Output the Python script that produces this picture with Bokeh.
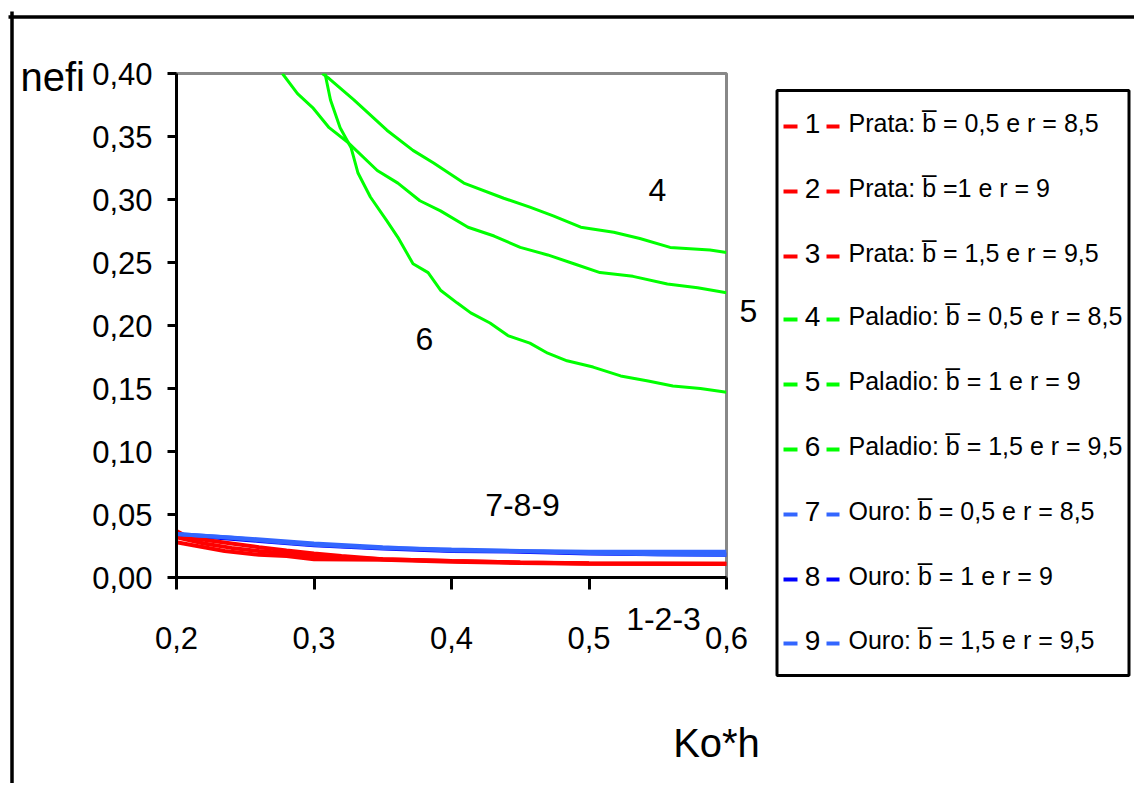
from bokeh.plotting import figure
from bokeh.models import Range1d, FixedTicker
from bokeh.core.properties import value
from bokeh.embed import file_html
from bokeh.resources import INLINE

FONT = "Liberation Sans"

# ---------------- data ----------------
x_ticks = [0.2, 0.3, 0.4, 0.5, 0.6]
x_tick_labels = ["0,2", "0,3", "0,4", "0,5", "0,6"]
y_ticks = [0.0, 0.05, 0.1, 0.15, 0.2, 0.25, 0.3, 0.35, 0.4]
y_tick_labels = ["0,00", "0,05", "0,10", "0,15", "0,20", "0,25", "0,30", "0,35", "0,40"]

# Prata (silver)
x1 = [0.2, 0.21, 0.22, 0.24, 0.26, 0.28, 0.30, 0.32, 0.35, 0.40, 0.45, 0.50, 0.60]
y1 = [0.037, 0.031, 0.030, 0.027, 0.024, 0.0214, 0.019, 0.017, 0.0145, 0.013, 0.012, 0.0113, 0.011]
x2 = [0.2, 0.22, 0.24, 0.26, 0.28, 0.30, 0.35, 0.40, 0.45, 0.50, 0.60]
y2 = [0.032, 0.027, 0.0235, 0.021, 0.019, 0.017, 0.0145, 0.013, 0.012, 0.0112, 0.011]
x3 = [0.2, 0.21, 0.22, 0.235, 0.26, 0.28, 0.30, 0.35, 0.40, 0.45, 0.50, 0.60]
y3 = [0.028, 0.026, 0.024, 0.021, 0.018, 0.017, 0.0145, 0.014, 0.0125, 0.0115, 0.011, 0.0108]

# Paladio
x4 = [0.306, 0.311, 0.329, 0.353, 0.372, 0.387, 0.409, 0.438, 0.457, 0.474, 0.494, 0.518, 0.537, 0.559, 0.588, 0.600]
y4 = [0.400, 0.396, 0.379, 0.355, 0.339, 0.329, 0.313, 0.301, 0.294, 0.287, 0.278, 0.274, 0.269, 0.262, 0.260, 0.258]
x5 = [0.277, 0.288, 0.299, 0.311, 0.325, 0.346, 0.361, 0.377, 0.392, 0.412, 0.431, 0.450, 0.470, 0.489, 0.508, 0.532, 0.557, 0.579, 0.600]
y5 = [0.400, 0.384, 0.373, 0.357, 0.345, 0.323, 0.313, 0.299, 0.291, 0.278, 0.271, 0.262, 0.256, 0.249, 0.242, 0.239, 0.233, 0.230, 0.226]
x6 = [0.308, 0.312, 0.319, 0.327, 0.332, 0.341, 0.353, 0.361, 0.372, 0.383, 0.392, 0.404, 0.414, 0.428, 0.441, 0.457, 0.470, 0.484, 0.503, 0.523, 0.543, 0.561, 0.581, 0.600]
y6 = [0.400, 0.379, 0.357, 0.341, 0.321, 0.302, 0.283, 0.270, 0.249, 0.242, 0.228, 0.218, 0.210, 0.202, 0.192, 0.186, 0.178, 0.172, 0.167, 0.160, 0.156, 0.152, 0.150, 0.147]

# Ouro (gold)
x7 = [0.2, 0.24, 0.27, 0.30, 0.35, 0.40, 0.45, 0.50, 0.55, 0.60]
y7 = [0.0345, 0.0316, 0.0286, 0.026, 0.0235, 0.0222, 0.021, 0.0205, 0.0204, 0.0204]
x8 = [0.2, 0.23, 0.26, 0.30, 0.35, 0.40, 0.45, 0.50, 0.55, 0.60]
y8 = [0.034, 0.0316, 0.029, 0.0255, 0.023, 0.021, 0.0205, 0.019, 0.0185, 0.018]
x9 = [0.2, 0.25, 0.30, 0.35, 0.40, 0.45, 0.50, 0.55, 0.60]
y9 = [0.0345, 0.031, 0.027, 0.024, 0.0215, 0.021, 0.0195, 0.0185, 0.018]

series_names = [
    "Prata: b\u0305 = 0,5 e r = 8,5",
    "Prata: b\u0305 =1 e r = 9",
    "Prata: b\u0305 = 1,5 e r = 9,5",
    "Paladio: b\u0305 = 0,5 e r = 8,5",
    "Paladio: b\u0305 = 1 e r = 9",
    "Paladio: b\u0305 = 1,5 e r = 9,5",
    "Ouro: b\u0305 = 0,5 e r = 8,5",
    "Ouro: b\u0305 = 1 e r = 9",
    "Ouro: b\u0305 = 1,5 e r = 9,5",
]
series_ids = ["1", "2", "3", "4", "5", "6", "7", "8", "9"]
series_colors = ["#FF0000", "#FF0000", "#FF0000",
                 "#00FF00", "#00FF00", "#00FF00",
                 "#3366FF", "#0000FF", "#3366FF"]

# curve group annotations
note_texts = ["4", "5", "6", "7-8-9", "1-2-3"]

# ---------------- main chart ----------------
W, H = 1134, 783
FL, FR, FT, FB = 176, 726, 73, 577  # plot frame edges in page px

p = figure(width=W, height=H, output_backend="svg", toolbar_location=None,
           x_range=Range1d(0.2, 0.6), y_range=Range1d(0.0, 0.40),
           min_border_left=FL, min_border_right=W - FR,
           min_border_top=FT, min_border_bottom=H - FB)
p.xgrid.visible = False
p.ygrid.visible = False
p.outline_line_color = "#888888"
p.outline_line_width = 3
p.background_fill_color = "white"
p.border_fill_color = "white"

for ax, ticks, labels, tout, stand in ((p.xaxis, x_ticks, x_tick_labels, 12, 37),
                                        (p.yaxis, y_ticks, y_tick_labels, 9, 15)):
    ax.ticker = FixedTicker(ticks=ticks)
    ax.major_label_overrides = dict(zip(ticks, labels))
    ax.axis_line_color = "black"
    ax.axis_line_width = 3
    ax.major_tick_line_color = "black"
    ax.major_tick_line_width = 3
    ax.major_tick_out = tout
    ax.major_tick_in = 0
    ax.minor_tick_line_color = None
    ax.major_label_text_font = FONT
    ax.major_label_text_font_size = "31px"
    ax.major_label_text_color = "black"
    ax.major_label_standoff = stand

order = [(x8, y8, 7), (x1, y1, 0), (x2, y2, 1), (x3, y3, 2), (x7, y7, 6), (x9, y9, 8),
         (x4, y4, 3), (x5, y5, 4), (x6, y6, 5)]
for xs, ys, i in order:
    w = 3 if i in (3, 4, 5) else 4
    p.line(xs, ys, line_color=series_colors[i], line_width=w)

# ---------------- overlay in page pixels (legend, titles, frame lines) ----------------
q = figure(width=W, height=H, output_backend="svg", toolbar_location=None,
           x_range=Range1d(0, W), y_range=Range1d(H, 0),
           x_axis_location=None, y_axis_location=None, min_border=0)
q.grid.visible = False
q.outline_line_color = None
q.background_fill_color = None
q.border_fill_color = None
q.styles = {"position": "absolute", "left": "0px", "top": "0px", "pointer-events": "none"}

# chart-area border pieces
q.segment(x0=[8, 11.5], y0=[16.5, 11], x1=[1136, 11.5], y1=[16.5, 785],
          line_color="black", line_width=3.5)

# axis titles
q.text(x=[20], y=[76], text=["nefi"], text_font=value(FONT), text_font_size="40px",
       text_align="left", text_baseline="alphabetic", text_color="black")
q.text(x=[716], y=[742], text=["Ko*h"], text_font=value(FONT), text_font_size="40px",
       text_align="center", text_baseline="alphabetic", text_color="black")

# curve annotations
q.text(x=[657, 748, 424, 522, 663], y=[189, 310, 338, 504, 618], text=note_texts,
       text_font=value(FONT), text_font_size="32px", text_align="center",
       text_baseline="middle", text_color="black")

# legend
q.quad(left=[776.5], right=[1128.5], top=[90], bottom=[675],
       fill_color=None, line_color="black", line_width=3)
row_y = [126, 191, 256, 319, 384, 449, 514, 579, 643]
q.segment(x0=[783] * 9, y0=row_y, x1=[797] * 9, y1=row_y,
          line_color=series_colors, line_width=4)
q.segment(x0=[826] * 9, y0=row_y, x1=[839] * 9, y1=row_y,
          line_color=series_colors, line_width=4)
q.text(x=[812] * 9, y=[r - 3 for r in row_y], text=series_ids,
       text_font=value(FONT), text_font_size="28px", text_align="center",
       text_baseline="middle", text_color="black")
q.text(x=[848] * 9, y=[r - 4 for r in row_y], text=series_names,
       text_font=value(FONT), text_font_size="25px", text_align="left",
       text_baseline="middle", text_color="black")

open("out.html", "w").write(file_html([p, q], INLINE))
